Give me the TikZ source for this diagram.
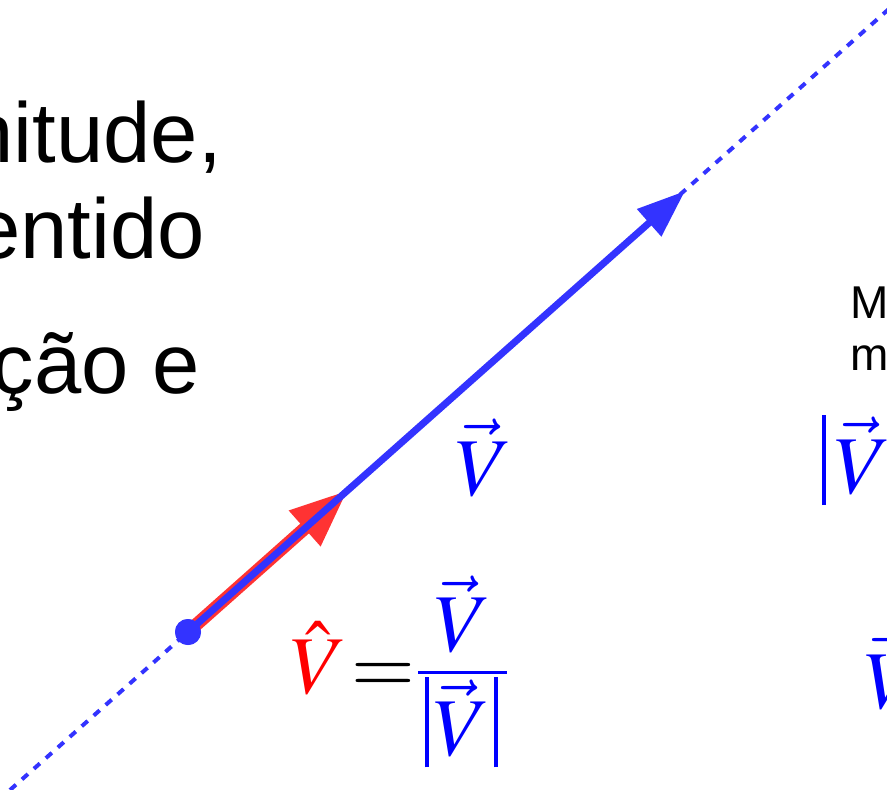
\documentclass[tikz,border=0pt]{standalone}
\usepackage{mathptmx}
\usepackage[no-math]{fontspec}
\newfontfamily\labelfont{Liberation Sans}
\usepackage{amsmath}
\usepackage{xcolor}
\usetikzlibrary{arrows.meta,positioning}

\definecolor{vecblue}{RGB}{51,51,255}
\definecolor{unitred}{RGB}{255,51,51}
\newcommand{\magbar}{\rule[-12pt]{3.5pt}{90pt}}

\begin{document}
\begin{tikzpicture}[
  x=1pt, y=-1pt,
  bigtxt/.style={font=\labelfont\fontsize{85}{100}\selectfont, inner sep=0pt},
  smalltxt/.style={font=\labelfont\fontsize{46}{52}\selectfont, inner sep=0pt},
  mathtxt/.style={font=\fontsize{82}{96}\selectfont, inner sep=0pt},
  guide/.style={vecblue, line width=4pt, dash pattern=on 8pt off 8pt},
  vecline/.style={vecblue, line width=7pt, -{Triangle[length=48pt,width=35pt]}},
  unitline/.style={unitred, line width=13pt, -{Triangle[length=58pt,width=44pt]}},
]
  \useasboundingbox (0,0) rectangle (887,790);
  \clip (0,0) rectangle (887,790);

  % line of action
  \coordinate (lineA) at (10,790);
  \coordinate (lineB) at (899,0);
  \draw[guide] (lineA) -- (lineB);

  % origin and tips
  \node[circle, fill=vecblue, minimum size=26pt, inner sep=0pt] (start) at (188,632) {};
  \coordinate (utip) at (348,490);
  \coordinate (vtip) at (685,191);

  \draw[unitline] (start.center) -- (utip);
  \draw[vecline] (start.center) -- (vtip);
  \node[circle, fill=vecblue, minimum size=26pt, inner sep=0pt] at (start) {};

  % text on the left
  \node[bigtxt, anchor=base east] (l1) at (222,162) {nitude,};
  \node[bigtxt, anchor=base east] (l2) at (205,258) {entido};
  \node[bigtxt, anchor=base east] (l3) at (200,393) {ção e};

  % text on the right
  \node[smalltxt, anchor=base west] (r1) at (850,318) {M};
  \node[smalltxt, anchor=base west] (r2) at (850,370) {m};

  % labels
  \node[mathtxt, text=blue, anchor=base] (vlab) at (484,495) {$\vec{V}$};
  \node[mathtxt, anchor=base west] (unit) at (290,693)
    {$\color{red}\hat{V}\mkern-3mu\color{black}=\mkern-3.5mu\color{blue}
     \frac{\raisebox{9pt}{$\displaystyle\vec{V}$}}
          {\mkern2mu\displaystyle\magbar\mkern1mu\vec{V}\mkern1mu\magbar\mkern2mu}$};
  \node[mathtxt, text=blue, anchor=base west] (mag) at (822,493) {$\magbar\mkern2mu\vec{V}$};
  \node[mathtxt, text=blue, anchor=base west] (vbot) at (864,708) {$\vec{V}$};
\end{tikzpicture}
\end{document}
